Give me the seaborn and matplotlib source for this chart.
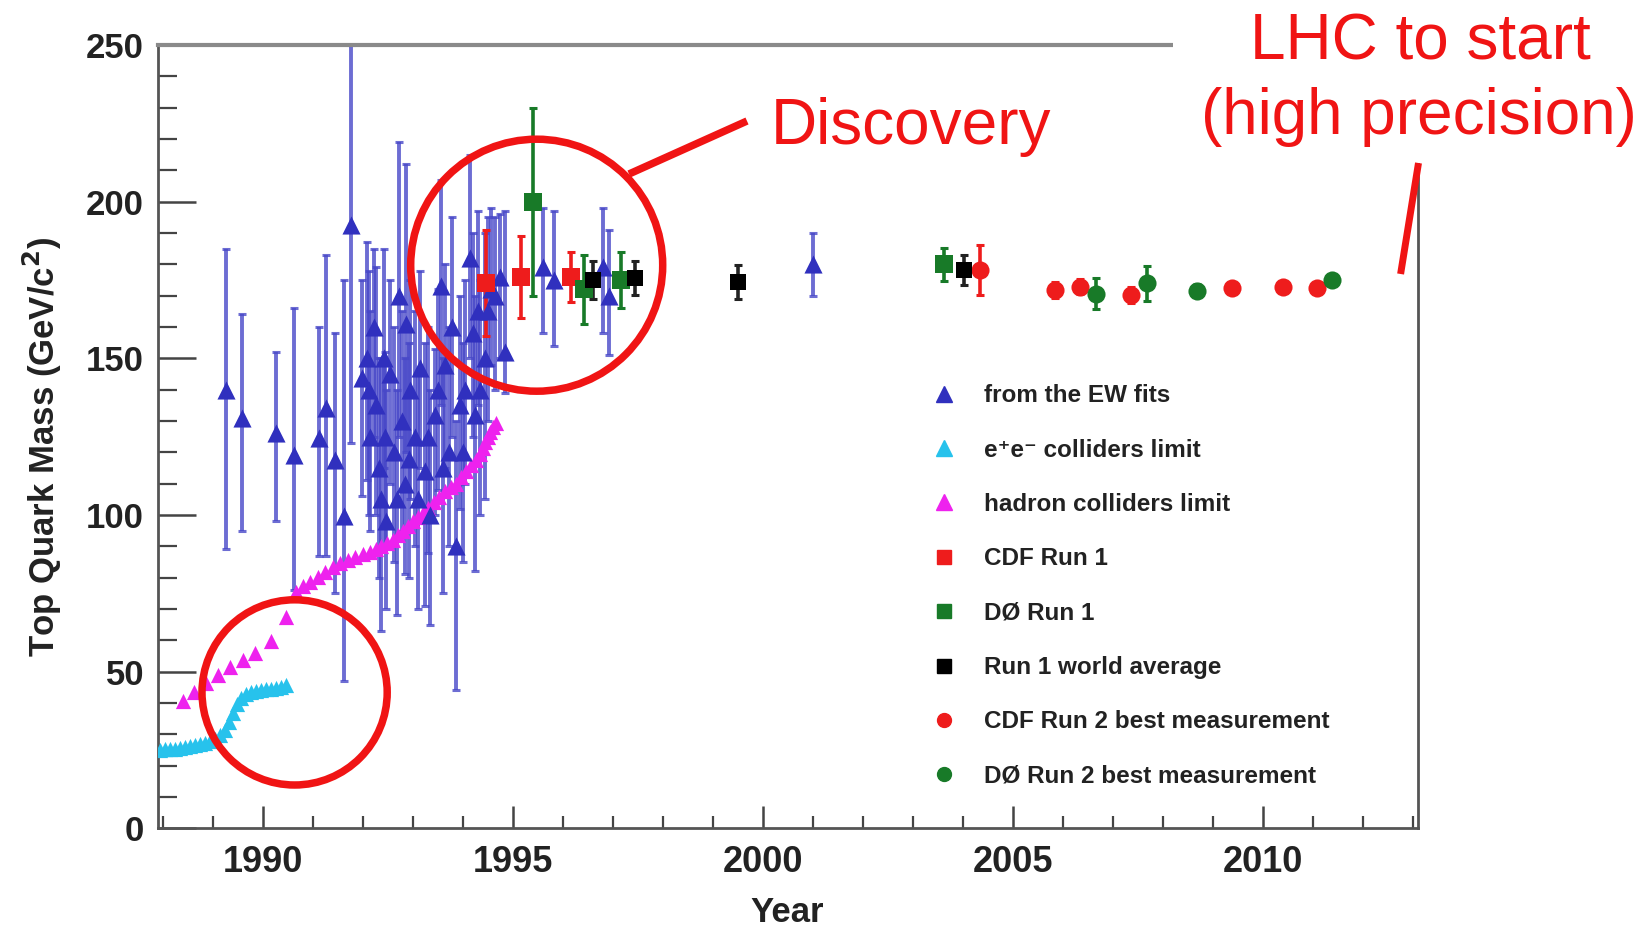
import numpy as np
import pandas as pd
import matplotlib
matplotlib.use("Agg")
import matplotlib.pyplot as plt
import seaborn as sns
from matplotlib import font_manager as fm
from matplotlib.lines import Line2D
from matplotlib.patches import Circle, Rectangle
from matplotlib.transforms import IdentityTransform
from matplotlib.ticker import MultipleLocator

# ---------------- data ----------------
ew_year = [1989.26, 1989.59, 1990.27, 1990.62, 1991.12, 1991.27, 1991.44, 1991.62, 1991.77,
           1991.99, 1992.09, 1992.15, 1992.22, 1992.27, 1992.33, 1992.37, 1992.44, 1992.47,
           1992.55, 1992.62, 1992.72, 1992.78, 1992.84, 1992.86, 1992.95, 1993.05, 1993.14,
           1993.24, 1993.35, 1993.45, 1993.57, 1993.65, 1993.72, 1993.78, 1993.87, 1993.95,
           1994.05, 1994.14, 1994.20, 1994.24, 1994.30, 1994.44, 1994.56, 1994.64, 1994.74,
           1994.84, 1995.60, 1995.82, 1996.80, 1996.92, 2001.00,
           1992.12, 1992.42, 1992.68, 1992.92, 1993.10, 1993.30, 1993.50, 1993.60, 1994.00,
           1994.35, 1994.50]
ew_mass = [140, 131, 126, 119, 124.5, 134, 117.6, 99.5, 192.6,
           143.7, 150, 125, 160, 135, 115, 105, 125, 98,
           145, 120, 170, 130, 110, 161, 140, 125, 147,
           114, 100, 132, 173, 148, 120, 160, 90, 135,
           140, 182, 158, 132, 165, 150, 172, 170, 176,
           152, 179, 175, 179, 170, 180,
           140, 150, 105, 118, 105, 125, 140, 115, 120,
           140, 165]
ew_lo = [89, 95, 98, 76, 87, 87, 75, 47, 123,
         106, 111, 95, 125, 100, 80, 63, 90, 70,
         110, 85, 125, 95, 81, 120, 105, 90, 115,
         71, 65, 100, 135, 115, 90, 125, 44, 102,
         110, 150, 125, 82, 135, 105, 148, 140, 150,
         139, 158, 154, 158, 151, 170,
         100, 115, 68, 80, 70, 88, 108, 75, 85,
         100, 130]
ew_hi = [185, 164, 152, 166, 160, 183, 158, 175, 250,
         175, 187, 165, 185, 179, 150, 150, 152, 140,
         175, 160, 219, 165, 150, 212, 175, 165, 178,
         155, 140, 153, 207, 180, 160, 195, 130, 170,
         175, 215, 190, 170, 197, 190, 198, 195, 196,
         197, 198, 197, 198, 191, 190,
         178, 185, 140, 155, 145, 160, 172, 150, 155,
         175, 195]

ee_year = [1987.95, 1988.05, 1988.15, 1988.25, 1988.35, 1988.45, 1988.55, 1988.65, 1988.75,
           1988.85, 1988.95, 1989.05, 1989.15, 1989.25, 1989.33, 1989.41, 1989.49, 1989.57,
           1989.66, 1989.76, 1989.86, 1989.96, 1990.06, 1990.16, 1990.26, 1990.36, 1990.46]
ee_mass = [25.0, 25.2, 25.3, 25.4, 25.6, 25.9, 26.2, 26.5, 26.9,
           27.3, 27.8, 28.5, 29.6, 31.5, 34.0, 36.8, 39.5, 41.5,
           42.8, 43.4, 43.8, 44.1, 44.3, 44.5, 44.8, 45.2, 45.7]

had_year = [1988.40, 1988.62, 1988.87, 1989.10, 1989.35, 1989.60, 1989.84, 1990.17, 1990.47,
            1990.66, 1990.80, 1990.94, 1991.10, 1991.24, 1991.40, 1991.54, 1991.70, 1991.84,
            1992.00, 1992.14, 1992.26, 1992.37, 1992.48, 1992.60, 1992.70, 1992.80, 1992.90,
            1993.00, 1993.10, 1993.20, 1993.31, 1993.42, 1993.53, 1993.65, 1993.76, 1993.87,
            1993.97, 1994.07, 1994.17, 1994.27, 1994.34, 1994.40, 1994.45, 1994.50, 1994.55,
            1994.60, 1994.67]
had_mass = [40.5, 43.5, 46.3, 49.0, 51.5, 53.8, 55.8, 59.6, 67.5,
            75.5, 77.2, 78.7, 80.3, 81.9, 83.3, 84.6, 85.6, 86.5,
            87.4, 88.3, 89.2, 90.0, 91.0, 92.0, 93.5, 95.0, 96.5,
            98.0, 99.2, 100.5, 102.2, 104.0, 105.8, 107.5, 108.8, 110.0,
            112.0, 114.0, 115.8, 117.6, 119.5, 121.5, 123.2, 125.0, 126.5,
            128.0, 129.3]

cdf1_year = [1994.46, 1995.17, 1996.17]
cdf1_mass = [174, 176, 176]
cdf1_err = [17, 13, 8]

d01_year = [1995.40, 1996.42, 1997.17, 2003.62]
d01_mass = [200, 172, 175, 180]
d01_err = [30, 11, 9, 5.3]

avg1_year = [1996.60, 1997.44, 1999.50, 2004.02]
avg1_mass = [175, 175.7, 174.3, 178.2]
avg1_err = [6, 5.5, 5.5, 4.8]

cdf2_year = [2004.34, 2005.84, 2006.34, 2007.36, 2009.38, 2010.41, 2011.09]
cdf2_mass = [178.2, 171.8, 172.9, 170.3, 172.4, 172.9, 172.4]
cdf2_err = [8, 2.5, 2.5, 2.5, 1.5, 1.5, 1.2]

d02_year = [2006.66, 2007.68, 2008.68, 2011.38]
d02_mass = [170.6, 174.0, 171.6, 175.0]
d02_err = [5, 5.6, 2, 1.5]

legend_labels = ["from the EW fits", "e\u207ae\u207b colliders limit", "hadron colliders limit",
                 "CDF Run 1", "D\u00d8 Run 1", "Run 1 world average",
                 "CDF Run 2 best measurement", "D\u00d8 Run 2 best measurement"]

# ---------------- style ----------------
sns.set_theme(style="ticks")
names = {f.name for f in fm.fontManager.ttflist}
base = "Liberation Sans" if "Liberation Sans" in names else "DejaVu Sans"
narrow = "Liberation Sans Narrow" if "Liberation Sans Narrow" in names else base
plt.rcParams["font.family"] = [base, "DejaVu Sans"]

C_BLUE = "#3030BE"
C_BLUE_BAR = "#4848C8"
C_CYAN = "#27C2EC"
C_MAG = "#EE22EE"
C_RED = "#EE1C1C"
C_GREEN = "#187A28"
C_BLACK = "#000000"
C_ANN = "#F01414"

W, H = 1650, 927
fig = plt.figure(figsize=(W / 100, H / 100), dpi=100)
fig.patch.set_facecolor("white")
ax = fig.add_axes([158 / W, 1 - 828.2 / H, 1259.5 / W, 783.2 / H])
ax.set_facecolor("white")

# ---------------- error bars ----------------
ew_y = np.array(ew_mass)
ax.errorbar(ew_year, ew_y, yerr=[ew_y - np.array(ew_lo), np.array(ew_hi) - ew_y],
            fmt="none", ecolor=C_BLUE_BAR, elinewidth=2.8, capsize=3, capthick=2.2,
            alpha=0.8, zorder=2)

def bars(x, y, e, color, z=3):
    ax.errorbar(x, y, yerr=e, fmt="none", ecolor=color, elinewidth=2.6,
                capsize=3, capthick=2.2, zorder=z)

bars(cdf1_year, cdf1_mass, cdf1_err, C_RED)
bars(d01_year, d01_mass, d01_err, C_GREEN)
bars(avg1_year, avg1_mass, avg1_err, "#222222")
bars(cdf2_year, cdf2_mass, cdf2_err, C_RED)
bars(d02_year, d02_mass, d02_err, C_GREEN)

# ---------------- markers (seaborn) ----------------
def pts(x, y, marker, color, s, z):
    sns.scatterplot(x=x, y=y, marker=marker, color=color, s=s, linewidth=0,
                    ax=ax, zorder=z, legend=False)

pts(ee_year, ee_mass, "^", C_CYAN, 120, 4)
pts(had_year, had_mass, "^", C_MAG, 120, 4)
pts(ew_year, ew_mass, "^", C_BLUE, 170, 5)
pts(cdf1_year, cdf1_mass, "s", C_RED, 150, 6)
pts(d01_year, d01_mass, "s", C_GREEN, 150, 6)
pts(avg1_year, avg1_mass, "s", C_BLACK, 140, 7)
pts(cdf2_year, cdf2_mass, "o", C_RED, 170, 6)
pts(d02_year, d02_mass, "o", C_GREEN, 170, 7)

# ---------------- axes ----------------
ax.set_xlim(1987.9, 2013.1)
ax.set_ylim(0, 250)
ax.xaxis.set_major_locator(MultipleLocator(5))
ax.xaxis.set_minor_locator(MultipleLocator(1))
ax.yaxis.set_major_locator(MultipleLocator(50))
ax.yaxis.set_minor_locator(MultipleLocator(10))
ax.tick_params(axis="y", which="major", direction="in", length=27, width=1.8,
               color="#444444", pad=10, labelsize=25)
ax.tick_params(axis="y", which="minor", direction="in", length=14, width=1.6, color="#444444")
ax.tick_params(axis="x", which="major", direction="in", length=16, width=1.8,
               color="#444444", pad=12, labelsize=26)
ax.tick_params(axis="x", which="minor", direction="in", length=9, width=1.6, color="#444444")
for lab in ax.get_yticklabels():
    lab.set_fontweight("bold"); lab.set_color("#222222")
for lab in ax.get_xticklabels():
    lab.set_fontweight("bold"); lab.set_color("#222222"); lab.set_family([narrow, "DejaVu Sans"])
for sp in ["left", "bottom", "right"]:
    ax.spines[sp].set_color("#555555"); ax.spines[sp].set_linewidth(2.0)
ax.spines["top"].set_color("#8a8a8a"); ax.spines["top"].set_linewidth(3.0)

ax.set_xlabel("")
ax.set_ylabel("")
fig.text(787 / W, 1 - 912 / H, "Year", ha="center", va="center", fontsize=25,
         fontweight="bold", color="#222222", family=[narrow, "DejaVu Sans"])
fig.text(42 / W, 1 - 447 / H, "Top Quark Mass (GeV/c$^{\\mathbf{2}}$)", ha="center", va="center",
         rotation=90, fontsize=25, fontweight="bold", color="#222222")

# ---------------- legend ----------------
handles = [
    Line2D([], [], ls="none", marker="^", color=C_BLUE, ms=12),
    Line2D([], [], ls="none", marker="^", color=C_CYAN, ms=12),
    Line2D([], [], ls="none", marker="^", color=C_MAG, ms=12),
    Line2D([], [], ls="none", marker="s", color=C_RED, ms=10),
    Line2D([], [], ls="none", marker="s", color=C_GREEN, ms=10),
    Line2D([], [], ls="none", marker="s", color=C_BLACK, ms=10),
    Line2D([], [], ls="none", marker="o", color=C_RED, ms=10),
    Line2D([], [], ls="none", marker="o", color=C_GREEN, ms=10),
]
leg = ax.legend(handles, legend_labels, loc="upper left", bbox_to_anchor=(0.6144, 0.5668),
                frameon=False, borderpad=0, borderaxespad=0, handlelength=1.0,
                handletextpad=1.14, labelspacing=1.29, prop={"weight": "bold", "size": 17.5})
for t in leg.get_texts():
    t.set_color("#222222")

# ---------------- annotations ----------------
def px(x, y):
    return (x, H - y)

fig.add_artist(Rectangle(px(1173, 163), W - 1173, 163, transform=IdentityTransform(),
                         facecolor="white", edgecolor="none", zorder=2))
fig.add_artist(Circle(px(536.7, 265.2), 126, transform=IdentityTransform(), fill=False,
                      edgecolor=C_ANN, lw=5.4, zorder=5))
fig.add_artist(Circle(px(294.6, 692.4), 92.6, transform=IdentityTransform(), fill=False,
                      edgecolor=C_ANN, lw=5.4, zorder=5))
x1, y1 = px(629, 174); x2, y2 = px(747, 121)
fig.add_artist(Line2D([x1, x2], [y1, y2], transform=IdentityTransform(), color=C_ANN,
                      lw=5.4, solid_capstyle="butt", zorder=5))
x1, y1 = px(1418.5, 163); x2, y2 = px(1400.6, 274)
fig.add_artist(Line2D([x1, x2], [y1, y2], transform=IdentityTransform(), color=C_ANN,
                      lw=5.0, solid_capstyle="butt", zorder=5))

fig.text(771 / W, 1 - 144 / H, "Discovery", ha="left", va="baseline", fontsize=46,
         color=C_ANN, zorder=6)
fig.text(1420 / W, 1 - 60 / H, "LHC to start", ha="center", va="baseline", fontsize=46,
         color=C_ANN, zorder=6)
fig.text(1419 / W, 1 - 134 / H, "(high precision)", ha="center", va="baseline", fontsize=46,
         color=C_ANN, zorder=6)

fig.savefig("out.png", dpi=100, facecolor="white")
